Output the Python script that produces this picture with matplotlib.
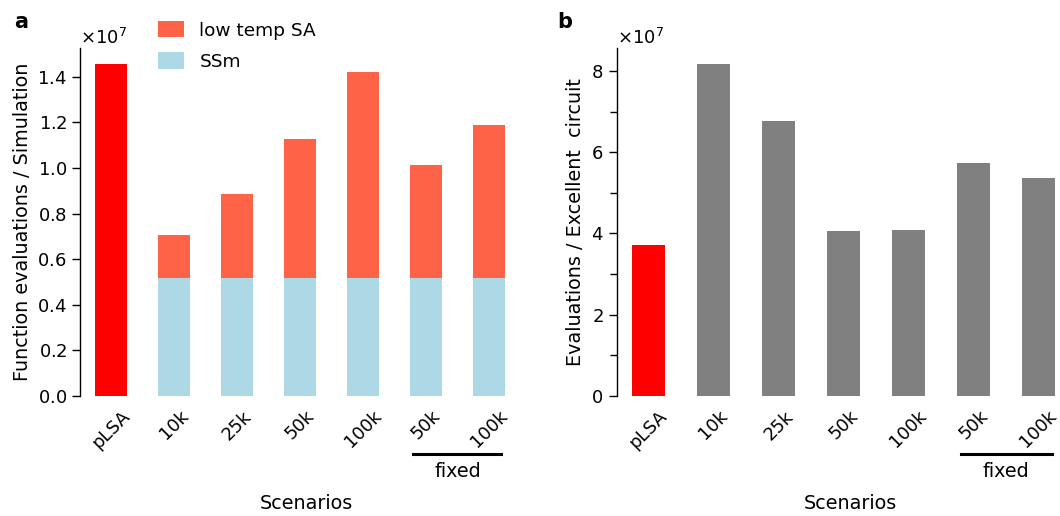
import matplotlib
matplotlib.use('Agg')
import matplotlib.pyplot as plt
import matplotlib.transforms as mtransforms
from matplotlib.ticker import MultipleLocator, ScalarFormatter
import numpy as np

# --------- DATA ----------
scenarios = ['pLSA', '10k', '25k', '50k', '100k', '50k', '100k']

plsa_evals = 1.455e7
ssm_evals = [0.519e7, 0.519e7, 0.519e7, 0.519e7, 0.519e7, 0.519e7]
lowtemp_total = [0.706e7, 0.886e7, 1.128e7, 1.422e7, 1.013e7, 1.189e7]

evals_per_circuit = [3.71e7, 8.17e7, 6.77e7, 4.06e7, 4.08e7, 5.73e7, 5.36e7]
# -------------------------

plt.rcParams['font.size'] = 13

fh = plt.figure(figsize=(10.6, 5.16), dpi=100)
W, H = 1060., 516.

ax1 = fh.add_axes([80/W, 120/H, 453/W, 348.3/H])
ax2 = fh.add_axes([616.7/W, 120/H, 467.4/W, 348.3/H])

x = np.arange(len(scenarios))
wd = 0.5

# panel a
ax1.bar(x[0], plsa_evals, wd, color='red')
lowtemp = np.array(lowtemp_total) - np.array(ssm_evals)
ax1.bar(x[1:], lowtemp, wd, bottom=ssm_evals, color='tomato', label='low temp SA')
ax1.bar(x[1:], ssm_evals, wd, color='lightblue', label='SSm')
ax1.set_ylabel('Function evaluations / Simulation', fontsize=13.8)
ax1.yaxis.set_major_locator(MultipleLocator(0.2e7))
ax1.set_ylim(0, 1.528e7)
ax1.legend(loc='upper left', bbox_to_anchor=(145/W, 1 - 8/H), bbox_transform=fh.transFigure,
           frameon=False, fontsize=13.3, handlelength=1.4, handleheight=1.0,
           handletextpad=0.85, borderaxespad=0.3, labelspacing=0.7)

# panel b
cols = ['red'] + ['grey']*(len(scenarios)-1)
ax2.bar(x, evals_per_circuit, wd, color=cols)
ax2.set_ylabel('Evaluations / Excellent  circuit', fontsize=13.8)
ax2.yaxis.set_major_locator(MultipleLocator(2e7))
ax2.yaxis.set_minor_locator(MultipleLocator(1e7))
ax2.set_ylim(0, 8.57e7)
ax2.tick_params(axis='y', which='minor', length=5, width=1)

for ax, lab in zip([ax1, ax2], ['a', 'b']):
    fmt = ScalarFormatter(useMathText=True)
    fmt.set_powerlimits((0, 0))
    ax.yaxis.set_major_formatter(fmt)
    ax.yaxis.get_offset_text().set_fontsize(13)
    ax.tick_params(axis='y', which='major', length=6, width=1)
    ax.spines['left'].set_linewidth(1)
    ax.set_xlim(-0.49, 6.7)
    ax.set_xticks(x)
    ax.set_xticklabels(scenarios, rotation=45, ha='center')
    ax.tick_params(axis='x', length=0, pad=8)
    ax.spines['top'].set_visible(False)
    ax.spines['right'].set_visible(False)
    ax.spines['bottom'].set_visible(False)
    ax.set_xlabel('Scenarios', fontsize=13.8)
    ax.xaxis.set_label_coords(0.5, -0.28)
    # "fixed" bracket under the last two bars
    tr = mtransforms.blended_transform_factory(ax.transData, ax.transAxes)
    ax.plot([4.8, 6.2], [-0.1665, -0.1665], color='black', lw=2.2, transform=tr, clip_on=False)
    ax.text(5.5, -0.218, 'fixed', transform=tr, ha='center', va='center', fontsize=13.8)

fh.text(14/W, 1 - 22/H, 'a', fontsize=15, fontweight='bold', ha='left', va='center')
fh.text(557/W, 1 - 22/H, 'b', fontsize=15, fontweight='bold', ha='left', va='center')

fh.savefig('out.png', dpi=100)
